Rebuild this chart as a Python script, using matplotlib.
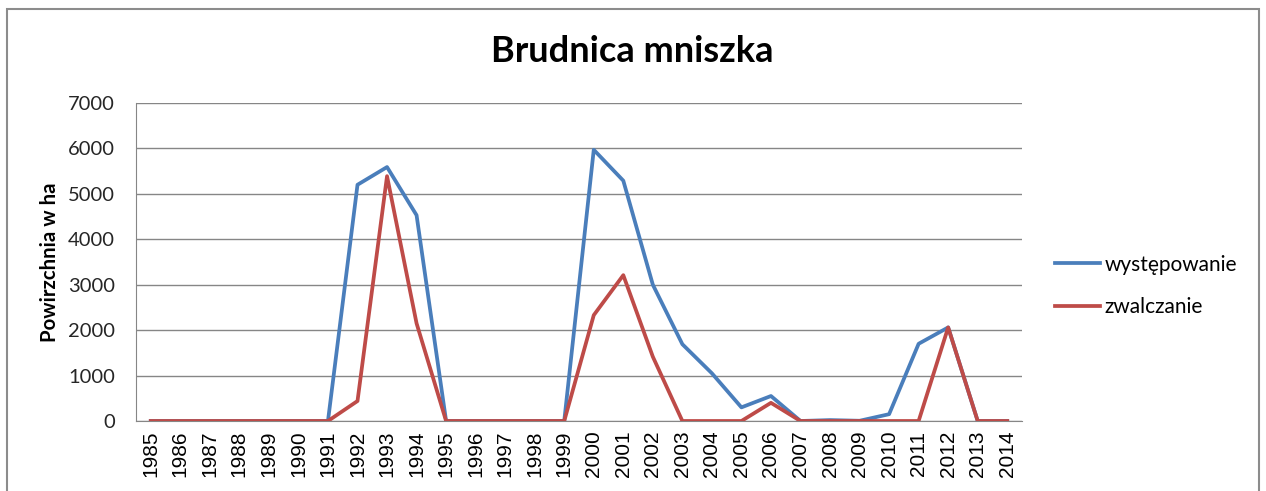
import matplotlib
matplotlib.use('Agg')
import matplotlib.pyplot as plt
from matplotlib.patches import Rectangle

# Data (area in ha)
years = list(range(1985, 2015))
wystepowanie = [0, 0, 0, 0, 0, 0, 0, 5200, 5590, 4530, 0, 0, 0, 0, 0,
                5970, 5290, 3000, 1690, 1050, 300, 550, 0, 20, 5,
                150, 1700, 2060, 0, 0]
zwalczanie = [0, 0, 0, 0, 0, 0, 0, 440, 5390, 2150, 0, 0, 0, 0, 0,
              2330, 3210, 1415, 0, 0, 0, 400, 0, 0, 0,
              0, 0, 2060, 0, 0]
yticks = [0, 1000, 2000, 3000, 4000, 5000, 6000, 7000]

BLUE = '#4A7EBB'
RED = '#BE4B48'
GRID = '#868686'

plt.rcParams['font.family'] = ['Lato', 'DejaVu Sans']

W, H = 1266, 491
fig = plt.figure(figsize=(W / 100, H / 100), dpi=100)

# outer chart border (bottom edge is cut off in the reference)
fig.patches.append(Rectangle((7 / W, -0.05), (1259 - 7) / W, 1.05 - 9 / H,
                             transform=fig.transFigure, fill=False,
                             edgecolor='#8c8c8c', linewidth=1.5))

left, right, top, bottom = 136, 1022, 103, 421
ax = fig.add_axes([left / W, 1 - bottom / H, (right - left) / W, (bottom - top) / H])

x = list(range(len(years)))
ax.plot(x, wystepowanie, color=BLUE, linewidth=2.7, label='występowanie',
        solid_joinstyle='round', zorder=3)
ax.plot(x, zwalczanie, color=RED, linewidth=2.7, label='zwalczanie',
        solid_joinstyle='round', zorder=4)

ax.set_xlim(-0.5, len(years) - 0.5)
ax.set_ylim(0, 7000)
ax.set_yticks(yticks)
ax.set_yticklabels([str(v) for v in yticks], fontsize=14.5, color='#262626')
ax.set_xticks(x)
ax.set_xticklabels([str(y) for y in years], rotation=90, fontsize=15,
                   family='Liberation Sans')
ax.tick_params(axis='y', length=0, pad=15)
ax.tick_params(axis='x', length=0, pad=7)

ax.grid(axis='y', color=GRID, linewidth=1)
ax.set_axisbelow(True)
for s in ['top', 'right']:
    ax.spines[s].set_visible(False)
ax.spines['left'].set_color(GRID)
ax.spines['bottom'].set_color(GRID)

ax.set_ylabel('Powirzchnia w ha', fontsize=14.7, fontweight='bold', labelpad=6)

fig.text(632 / W, 1 - 52 / H, 'Brudnica mniszka', fontsize=26,
         fontweight='bold', ha='center', va='center')

leg = ax.legend(loc='center left', bbox_to_anchor=(1.016, 0.425), frameon=False,
                fontsize=15, handlelength=2.15, handletextpad=0.25,
                labelspacing=1.08)

fig.savefig('out.png', dpi=100)
